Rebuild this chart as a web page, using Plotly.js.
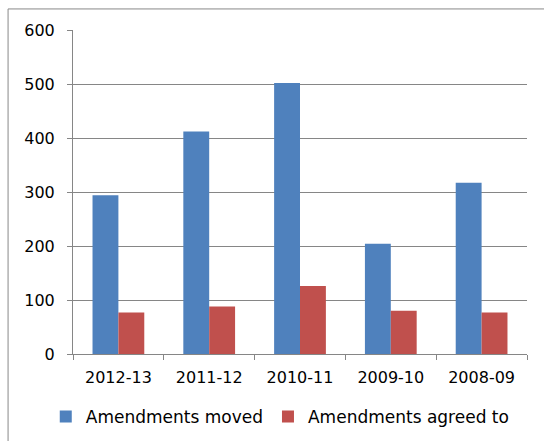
<!DOCTYPE html>
<html>
<head>
<meta charset="utf-8">
<script src="https://cdn.plot.ly/plotly-3.0.1.min.js"></script>
<style>html,body{margin:0;padding:0;background:#fff;}#chart{width:544px;height:441px;}</style>
</head>
<body>
<div id="chart"></div>
<script>
const categories = ["2012-13", "2011-12", "2010-11", "2009-10", "2008-09"];
const amendmentsMoved = [294, 412, 502, 204, 317];
const amendmentsAgreed = [77, 88, 126, 80, 77];
const yTicks = [0, 100, 200, 300, 400, 500, 600];

const traces = [
  {type: "bar", name: "Amendments moved", x: categories, y: amendmentsMoved,
   marker: {color: "#4F81BD"}},
  {type: "bar", name: "Amendments agreed to", x: categories, y: amendmentsAgreed,
   marker: {color: "#C0504D"}}
];

const layout = {
  width: 544, height: 441,
  margin: {l: 73, r: 17, t: 30, b: 87, autoexpand: false},
  paper_bgcolor: "#fff", plot_bgcolor: "#fff",
  font: {family: "'DejaVu Sans', sans-serif", size: 16, color: "#000"},
  barmode: "group", bargap: 0.43, bargroupgap: 0,
  showlegend: true,
  legend: {orientation: "h", x: -0.06, xanchor: "left", y: -0.194, yanchor: "middle",
           font: {size: 17}, bgcolor: "rgba(0,0,0,0)", traceorder: "normal"},
  xaxis: {type: "category", showline: true, linecolor: "#868686", linewidth: 1, ticks: "outside",
          tickson: "boundaries", ticklen: 5, tickcolor: "#868686", showgrid: false,
          tickfont: {size: 16}, ticklabelstandoff: 9, fixedrange: true},
  yaxis: {range: [0, 600], tickvals: yTicks, showline: true, linecolor: "#868686",
          ticks: "outside", ticklen: 5, tickcolor: "#868686", showgrid: true,
          gridcolor: "#868686", gridwidth: 1, zeroline: false, tickfont: {size: 16},
          ticklabelstandoff: 9, fixedrange: true},
  shapes: [{type: "rect", xref: "paper", yref: "paper",
            x0: -0.143, x1: 1.04, y0: -0.285, y1: 1.065,
            line: {color: "#888", width: 1}, fillcolor: "rgba(0,0,0,0)"}]
};

Plotly.newPlot("chart", traces, layout, {displayModeBar: false, staticPlot: true});
</script>
</body>
</html>
